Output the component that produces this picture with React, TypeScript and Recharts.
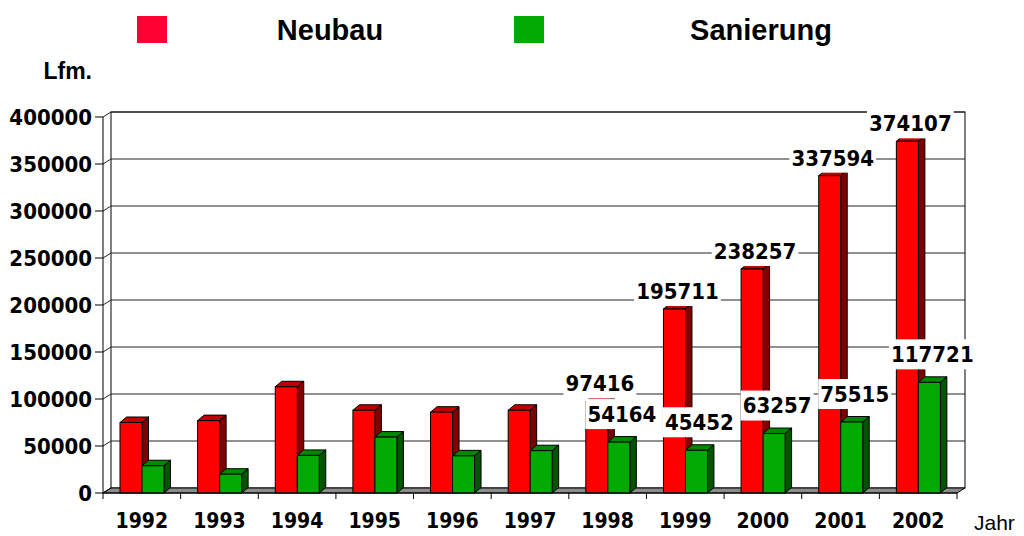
import React from 'react';
import { BarChart, Bar, XAxis, YAxis, Legend, LabelList, ReferenceArea } from 'recharts';

const years = ['1992', '1993', '1994', '1995', '1996', '1997', '1998', '1999', '2000', '2001', '2002'];
const neubau = [75000, 77000, 113000, 88000, 86000, 88000, 97416, 195711, 238257, 337594, 374107];
const sanierung = [29000, 20000, 40000, 59500, 39500, 45000, 54164, 45452, 63257, 75515, 117721];
const labelledYears = ['1998', '1999', '2000', '2001', '2002'];
const yTicks = [0, 50000, 100000, 150000, 200000, 250000, 300000, 350000, 400000];
const seriesNames = ['Neubau', 'Sanierung'];
const yAxisTitle = 'Lfm.';
const xAxisTitle = 'Jahr';

const data = years.map((year, i) => ({
  year,
  neubau: neubau[i],
  sanierung: sanierung[i],
  neubauLabel: labelledYears.includes(year) ? neubau[i] : undefined,
  sanierungLabel: labelledYears.includes(year) ? sanierung[i] : undefined,
}));

const W = 1016;
const H = 528;
const PLOT_LEFT = 95;
const PLOT_RIGHT = 949;
const PLOT_W = PLOT_RIGHT - PLOT_LEFT;
const LEGEND_H = 50;
const BAR_DX = 6.5;
const BAR_DY = 5.5;
const WALL_DX = 8;
const WALL_DY = 5;
const NUM_FONT = "'DejaVu Sans Condensed', 'DejaVu Sans', sans-serif";
const TXT_FONT = "'Liberation Sans', Arial, sans-serif";

const make3DBar = (front: string, top: string, side: string) => (props: any) => {
  const { x, y, width: w, height: h } = props;
  if (w == null || h == null || isNaN(x) || isNaN(y)) return null;
  return (
    <g>
      <polygon
        points={`${x},${y} ${x + BAR_DX},${y - BAR_DY} ${x + w + BAR_DX},${y - BAR_DY} ${x + w},${y}`}
        fill={top}
        stroke="#000"
        strokeWidth={1}
      />
      <polygon
        points={`${x + w},${y} ${x + w + BAR_DX},${y - BAR_DY} ${x + w + BAR_DX},${y + h - BAR_DY} ${x + w},${y + h}`}
        fill={side}
        stroke="#000"
        strokeWidth={1}
      />
      <rect x={x} y={y} width={w} height={h} fill={front} stroke="#000" strokeWidth={1} />
    </g>
  );
};

const WallShape = (props: any) => {
  const { x, y, width: w, height: h } = props;
  return (
    <g>
      <rect x={x + WALL_DX} y={y - WALL_DY} width={w} height={h} fill="#fff" stroke="#000" strokeWidth={1} />
      <polygon
        points={`${x},${y + h} ${x + w},${y + h} ${x + w + WALL_DX},${y + h - WALL_DY} ${x + WALL_DX},${y + h - WALL_DY}`}
        fill="#8c8c8c"
        stroke="#000"
        strokeWidth={1}
      />
      <line x1={x} y1={y + h} x2={x + WALL_DX} y2={y + h - WALL_DY} stroke="#000" />
    </g>
  );
};

const GridShape = (props: any) => {
  const { x, y, width: w } = props;
  return (
    <path
      d={`M${x},${y} L${x + WALL_DX},${y - WALL_DY} L${x + w + WALL_DX},${y - WALL_DY}`}
      fill="none"
      stroke="#222"
      strokeWidth={1}
    />
  );
};

const XTick = (props: any) => {
  const { x, y, payload, index } = props;
  const band = PLOT_W / years.length;
  return (
    <g>
      <line x1={x - band / 2} y1={y} x2={x - band / 2} y2={y + 6} stroke="#000" />
      {index === years.length - 1 && (
        <line x1={x + band / 2} y1={y} x2={x + band / 2} y2={y + 6} stroke="#000" />
      )}
      <text x={x} y={y + 35} textAnchor="middle" fontFamily={NUM_FONT} fontWeight="bold" fontSize={21} fill="#000">
        {payload.value}
      </text>
    </g>
  );
};

const makeValueLabel = (lift: number, shift: number) => (props: any) => {
  const vb = props.viewBox || props;
  const x = vb.x ?? props.x;
  const y = vb.y ?? props.y;
  const width = vb.width ?? props.width;
  const { value } = props;
  if (value == null || value === '' || isNaN(x)) return null;
  const s = String(value);
  const cx = x + width / 2 + shift;
  const cy = y - lift;
  const bw = s.length * 13.8 + 4;
  const bh = 30;
  return (
    <g>
      <rect x={cx - bw / 2} y={cy - bh / 2} width={bw} height={bh} fill="#fff" />
      <text x={cx} y={cy} dy="0.36em" textAnchor="middle" fontFamily={NUM_FONT} fontWeight="bold" fontSize={22} fill="#000">
        {s}
      </text>
    </g>
  );
};

const LegendContent = () => (
  <svg width={W} height={LEGEND_H} style={{ display: 'block' }}>
    <rect x={129} y={8} width={30} height={27} fill="#ff0033" />
    <text x={322} y={32} textAnchor="middle" fontFamily={TXT_FONT} fontWeight="bold" fontSize={29} fill="#000">
      {seriesNames[0]}
    </text>
    <rect x={506} y={8} width={30} height={27} fill="#00aa00" />
    <text x={753} y={32} textAnchor="middle" fontFamily={TXT_FONT} fontWeight="bold" fontSize={29} fill="#000">
      {seriesNames[1]}
    </text>
  </svg>
);

const YTitle = (props: any) => {
  const vb = props.viewBox || { x: 0, y: 109, width: 95 };
  return (
    <text x={vb.x + vb.width - 11} y={vb.y - 38} textAnchor="end" fontFamily={TXT_FONT} fontWeight="bold" fontSize={23} fill="#000">
      {yAxisTitle}
    </text>
  );
};

const XTitle = (props: any) => {
  const vb = props.viewBox || { x: 95, y: 485, width: 854 };
  return (
    <text x={vb.x + vb.width + 17} y={vb.y + 37} textAnchor="start" fontFamily={TXT_FONT} fontSize={21} fill="#000">
      {xAxisTitle}
    </text>
  );
};

export default function App() {
  return (
    <BarChart
      width={W}
      height={H}
      data={data}
      margin={{ top: 109 - LEGEND_H, right: W - PLOT_RIGHT, bottom: 0, left: 0 }}
      barSize={22}
      barGap={0}
    >
      <Legend
        verticalAlign="top"
        align="left"
        height={LEGEND_H}
        width={W}
        wrapperStyle={{ top: 0, left: 0, width: W, height: LEGEND_H }}
        content={LegendContent}
      />
      <ReferenceArea y1={0} y2={400000} shape={WallShape} ifOverflow="visible" />
      {yTicks.slice(1).map((t) => (
        <ReferenceArea key={t} y1={0} y2={t} shape={GridShape} ifOverflow="visible" />
      ))}
      <XAxis
        dataKey="year"
        interval={0}
        tickSize={0}
        tickMargin={0}
        tickLine={false}
        axisLine={{ stroke: '#000' }}
        height={H - 485}
        tick={XTick}
        label={<XTitle />}
      />
      <YAxis
        domain={[0, 400000]}
        ticks={yTicks}
        interval={0}
        width={PLOT_LEFT}
        tickSize={8}
        tickMargin={3}
        axisLine={{ stroke: '#000' }}
        tickLine={{ stroke: '#000' }}
        tick={{ fontFamily: NUM_FONT, fontWeight: 'bold', fontSize: 22, fill: '#000' }}
        label={<YTitle />}
      />
      <Bar dataKey="neubau" name={seriesNames[0]} fill="#ff0000" shape={make3DBar('#ff0000', '#c00000', '#800000')} isAnimationActive={false}>
        <LabelList dataKey="neubauLabel" content={makeValueLabel(18, 3)} />
      </Bar>
      <Bar dataKey="sanierung" name={seriesNames[1]} fill="#00aa00" shape={make3DBar('#00aa00', '#008800', '#005500')} isAnimationActive={false}>
        <LabelList dataKey="sanierungLabel" content={makeValueLabel(28, 3)} />
      </Bar>
    </BarChart>
  );
}
